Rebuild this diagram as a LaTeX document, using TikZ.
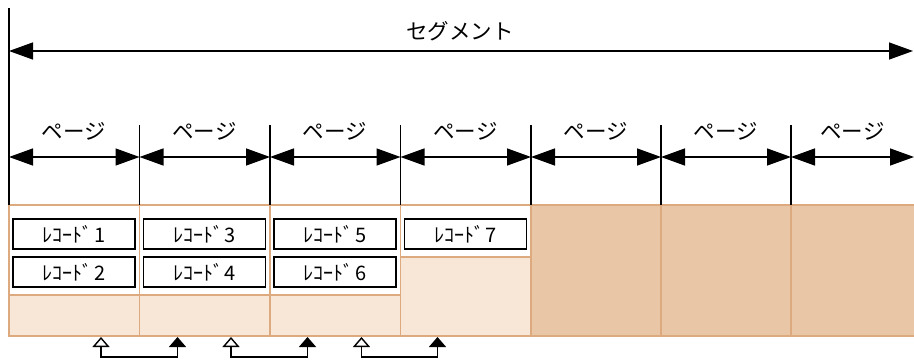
\documentclass[tikz,border=0pt]{standalone}
\usepackage{fontspec}
\setmainfont{Noto Sans CJK JP}
\usetikzlibrary{arrows.meta}
\definecolor{pageedge}{HTML}{DDAA80}
\definecolor{lightfill}{HTML}{F8E6D6}
\definecolor{midfill}{HTML}{E8C6A6}
\begin{document}
\begin{tikzpicture}[x=1pt,y=-1pt,
  dim/.style={line width=1.4pt,{Triangle[length=24pt,width=17pt]}-{Triangle[length=24pt,width=17pt]}},
  guide/.style={line width=1.4pt},
  pagebox/.style={draw=pageedge,line width=1.5pt,anchor=north west,inner sep=0pt,outer sep=0pt,minimum height=131pt},
  freepart/.style={draw=pageedge,line width=1.2pt,fill=lightfill},
  recbox/.style={draw=black,line width=1.3pt,fill=white,minimum width=122pt,minimum height=30pt,inner sep=0pt,font=\fontsize{20}{20}\selectfont},
  lbl/.style={font=\fontsize{21.5}{21.5}\selectfont,inner sep=0pt},
  link/.style={line width=1.4pt,{Triangle[open,length=10pt,width=17pt,line width=1.4pt]}-{Triangle[length=10pt,width=17pt]}}
]
\useasboundingbox (0,0) rectangle (914,361);
% page boxes
\node[pagebox,fill=white,minimum width=130.5pt] (p1) at (9,205) {};
\node[pagebox,fill=white,minimum width=130.5pt] (p2) at (139.5,205) {};
\node[pagebox,fill=white,minimum width=130.5pt] (p3) at (270,205) {};
\node[pagebox,fill=white,minimum width=130.5pt] (p4) at (400.5,205) {};
\node[pagebox,fill=midfill,minimum width=130pt] (p5) at (531,205) {};
\node[pagebox,fill=midfill,minimum width=130pt] (p6) at (661,205) {};
\node[pagebox,fill=midfill,minimum width=124pt] (p7) at (791,205) {};
% free areas
\draw[freepart] (9,295) rectangle (139.5,336);
\draw[freepart] (139.5,295) rectangle (270,336);
\draw[freepart] (270,295) rectangle (400.5,336);
\draw[freepart] (400.5,257) rectangle (531,336);
\draw[draw=pageedge,line width=1.5pt] (9,205) -- (914,205) (9,336) -- (914,336);
% records
\node[recbox] (r1) at (74,234) {ﾚｺｰﾄﾞ\hspace{1.5pt}1};
\node[recbox] (r2) at (74,272) {ﾚｺｰﾄﾞ\hspace{1.5pt}2};
\node[recbox] (r3) at (204.5,234) {ﾚｺｰﾄﾞ\hspace{1.5pt}3};
\node[recbox] (r4) at (204.5,272) {ﾚｺｰﾄﾞ\hspace{1.5pt}4};
\node[recbox] (r5) at (335,234) {ﾚｺｰﾄﾞ\hspace{1.5pt}5};
\node[recbox] (r6) at (335,272) {ﾚｺｰﾄﾞ\hspace{1.5pt}6};
\node[recbox] (r7) at (465.5,234) {ﾚｺｰﾄﾞ\hspace{1.5pt}7};
% guides
\coordinate (top) at (9,8);
\draw[guide] (top) -- (p1.north west);
\foreach \n/\x in {p2/139.5,p3/270,p4/400.5,p5/531,p6/661,p7/791}
  \draw[guide] (\x,125) -- (\n.north west);
% segment dimension
\coordinate (s0) at (9,51);
\coordinate (s1) at (913,51);
\draw[dim] (s0) -- (s1);
\node[lbl] (seg) at (460,31) {セグメント};
% page dimensions
\coordinate (b0) at (9,157);
\coordinate (b1) at (139.5,157);
\coordinate (b2) at (270,157);
\coordinate (b3) at (400.5,157);
\coordinate (b4) at (531,157);
\coordinate (b5) at (661,157);
\coordinate (b6) at (791,157);
\coordinate (b7) at (914,157);
\foreach \a/\b in {b0/b1,b1/b2,b2/b3,b3/b4,b4/b5,b5/b6,b6/b7}
  \draw[dim] (\a) -- (\b);
\foreach \i/\x in {1/74,2/204.5,3/335,4/465.5,5/596,6/726,7/852.5}
  \node[lbl] (pl\i) at (\x,131) {ページ};
% links
\coordinate (u1) at (101,337); \coordinate (d1) at (177.5,337);
\coordinate (u2) at (231,337); \coordinate (d2) at (307.5,337);
\coordinate (u3) at (361.5,337); \coordinate (d3) at (437.5,337);
\foreach \i in {1,2,3}
  \draw[link] (u\i) -- ++(0,20) -| (d\i);
\end{tikzpicture}
\end{document}
